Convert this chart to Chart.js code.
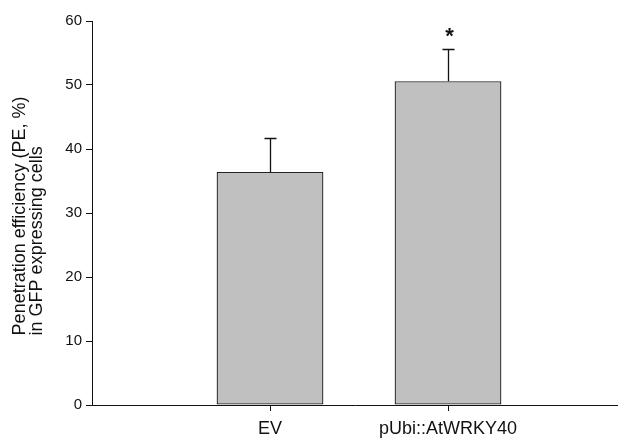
<!DOCTYPE html>
<html>
<head>
<meta charset="utf-8">
<title>Penetration efficiency</title>
<script src="https://cdn.jsdelivr.net/npm/chart.js@4/dist/chart.umd.min.js"></script>
<style>
  html, body { margin: 0; padding: 0; background: #fff; }
  #wrap { width: 618px; height: 439px; }
</style>
</head>
<body>
<div id="wrap"><canvas id="chart" width="618" height="439"></canvas></div>
<script>
// Genotypes on the x axis (positions 1, 2 on a linear axis)
const categories = ['EV', 'pUbi::AtWRKY40'];
const categoryPositions = [1, 2];
// Mean penetration efficiency (%) and its error
const penetration = [36.4, 50.6];
const errors = [5.3, 5.0];
// Significance marks above the error bars
const marks = ['', '*'];
// Y axis range and step
const yMin = 0, yMax = 60, yStep = 10;
const xMin = 0, xMax = 2.955;
// Y axis title, two lines sharing a common start
const yTitleLines = ['Penetration efficiency (PE, %)', 'in GFP expressing cells'];

const FONT = "'Liberation Sans', Arial, Helvetica, sans-serif";
const INK = '#111';

// Error bars and significance marks, placed through the chart's scales
const errorBarPlugin = {
  id: 'errorBars',
  afterDatasetsDraw(chart) {
    const meta = chart.getDatasetMeta(0);
    const yScale = chart.scales.y;
    const ctx = chart.ctx;
    ctx.save();
    ctx.strokeStyle = INK;
    ctx.lineWidth = 1.3;
    meta.data.forEach((bar, i) => {
      const x = Math.round(bar.x) + 0.5;
      const yBase = yScale.getPixelForValue(penetration[i]);
      const yTop = Math.round(yScale.getPixelForValue(penetration[i] + errors[i])) + 0.5;
      ctx.beginPath();
      ctx.moveTo(x, yBase);
      ctx.lineTo(x, yTop);
      ctx.moveTo(x - 6, yTop);
      ctx.lineTo(x + 6, yTop);
      ctx.stroke();
      if (marks[i]) {
        ctx.fillStyle = INK;
        ctx.font = "bold 22px " + FONT;
        ctx.textAlign = 'center';
        ctx.textBaseline = 'middle';
        ctx.fillText(marks[i], x + 1, yTop - 13);
      }
    });
    ctx.restore();
  }
};

// Rotated y axis title: first line centred on the plot, second line starting where the first starts
const yTitlePlugin = {
  id: 'yTitle',
  afterDraw(chart) {
    const ctx = chart.ctx;
    const area = chart.chartArea;
    ctx.save();
    ctx.fillStyle = INK;
    ctx.font = "18px " + FONT;
    ctx.textAlign = 'left';
    ctx.textBaseline = 'alphabetic';
    const w = ctx.measureText(yTitleLines[0]).width;
    const startY = (area.top + area.bottom) / 2 + 3 + w / 2;
    const baselines = [25, 41.5];
    yTitleLines.forEach((line, i) => {
      ctx.save();
      ctx.translate(baselines[i], startY);
      ctx.rotate(-Math.PI / 2);
      ctx.fillText(line, 0, 0);
      ctx.restore();
    });
    ctx.restore();
  }
};

new Chart(document.getElementById('chart'), {
  type: 'bar',
  data: {
    datasets: [{
      data: categoryPositions.map((x, i) => ({ x: x, y: penetration[i] })),
      backgroundColor: '#c0c0c0',
      borderColor: '#222',
      borderWidth: 1.3,
      borderSkipped: false,
      categoryPercentage: 1,
      barPercentage: 0.6
    }]
  },
  options: {
    responsive: false,
    animation: false,
    events: [],
    layout: { padding: { top: 21, right: 0, bottom: 0, left: 0 } },
    plugins: { legend: { display: false }, tooltip: { enabled: false } },
    scales: {
      x: {
        type: 'linear',
        min: xMin,
        max: xMax,
        offset: false,
        grid: { display: true, drawOnChartArea: false, drawTicks: true, tickLength: 6, color: INK, offset: false },
        border: { display: true, color: INK, width: 1 },
        afterBuildTicks(scale) {
          scale.ticks = categoryPositions.map(v => ({ value: v }));
        },
        ticks: {
          autoSkip: false,
          maxRotation: 0,
          padding: 7,
          color: INK,
          font: { family: FONT, size: 18 },
          callback(value) {
            const i = categoryPositions.indexOf(value);
            return i >= 0 ? categories[i] : '';
          }
        },
        afterFit(scale) { scale.height = 34; }
      },
      y: {
        min: yMin,
        max: yMax,
        grid: { display: true, drawOnChartArea: false, drawTicks: true, tickLength: 6, color: INK },
        border: { display: true, color: INK, width: 1 },
        ticks: {
          stepSize: yStep,
          padding: 4,
          color: INK,
          font: { family: FONT, size: 15 }
        },
        afterFit(scale) { scale.width = 92; }
      }
    }
  },
  plugins: [errorBarPlugin, yTitlePlugin]
});
</script>
</body>
</html>
